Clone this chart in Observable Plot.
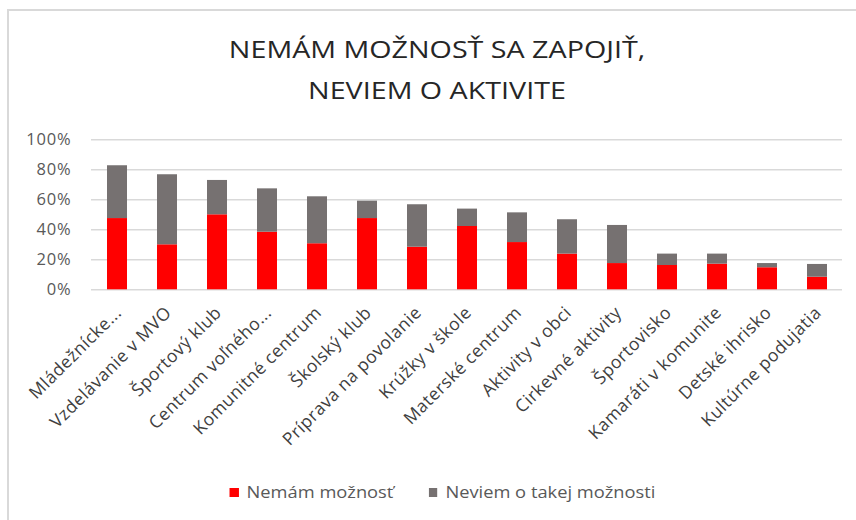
<!DOCTYPE html>
<html>
<head>
<meta charset="utf-8">
<script src="https://cdn.jsdelivr.net/npm/d3@7"></script>
<script src="https://cdn.jsdelivr.net/npm/@observablehq/plot@0.6"></script>
<style>
html, body { margin: 0; padding: 0; background: #fff; overflow: hidden; }
#wrap { position: relative; width: 856px; height: 520px; font-family: "Open Sans", sans-serif; overflow: hidden; }
#border { position: absolute; left: 7px; top: 9px; width: 960px; height: 600px; border-left: 2px solid #d9d9d9; border-top: 2px solid #d9d9d9; }
#title { position: absolute; left: 37px; top: 28px; width: 800px; text-align: center; font-size: 24.5px; line-height: 41px; color: #262626; transform: scaleX(1.17); transform-origin: 400px 0; }
#chart { position: absolute; left: 0; top: 120px; }
#legend { position: absolute; left: 0; top: 482px; width: 885px; display: flex; justify-content: center; align-items: center; font-size: 15.5px; line-height: 20px; color: #595959; transform: scaleX(1.18); transform-origin: 442.5px 0; }
.item { display: flex; align-items: center; }
.sw { width: 7.6px; height: 9px; margin-right: 6.8px; }
.item + .item { margin-left: 29.7px; }
#chart g[aria-label="text"] text { letter-spacing: 0.5px; }
#chart g[aria-label^="y-axis"] text { letter-spacing: 0.8px; }
</style>
</head>
<body>
<div id="wrap">
  <div id="border"></div>
  <div id="title">NEMÁM MOŽNOSŤ SA ZAPOJIŤ,<br>NEVIEM O AKTIVITE</div>
  <div id="chart"></div>
  <div id="legend"></div>
</div>
<script>
const categories = ["Mládežnícke...", "Vzdelávanie v MVO", "Športový klub", "Centrum voľného...", "Komunitné centrum", "Školský klub", "Príprava na povolanie", "Krúžky v škole", "Materské centrum", "Aktivity v obci", "Cirkevné aktivity", "Športovisko", "Kamaráti v komunite", "Detské ihrisko", "Kultúrne podujatia"];
const nemamMoznost = [47.5, 30.0, 50.0, 38.4, 30.7, 47.5, 28.4, 42.2, 31.5, 23.8, 17.5, 16.2, 17.1, 14.7, 8.4];
const neviemOMoznosti = [35.2, 46.7, 22.9, 28.9, 31.3, 11.6, 28.3, 11.6, 19.8, 22.9, 25.4, 7.6, 6.7, 2.8, 8.5];
const seriesNames = ["Nemám možnosť", "Neviem o takej možnosti"];
const seriesColors = ["#FF0000", "#767171"];
const yTicks = [0, 20, 40, 60, 80, 100];

const seriesValues = [nemamMoznost, neviemOMoznosti];
const data = [];
seriesNames.forEach((s, i) => {
  categories.forEach((c, j) => data.push({category: c, series: s, value: seriesValues[i][j]}));
});

const chart = Plot.plot({
  width: 856,
  height: 350,
  marginTop: 19.3,
  marginBottom: 180.7,
  marginLeft: 91,
  marginRight: 14,
  style: {fontFamily: "'Open Sans', sans-serif", fontSize: "16.5px", color: "#595959", background: "transparent", overflow: "visible"},
  x: {type: "band", domain: categories, paddingInner: 0.6, paddingOuter: 0.3, axis: null},
  y: {domain: [0, 100], ticks: yTicks, tickFormat: d => d + "%", tickSize: 0, tickPadding: 20, label: null},
  color: {domain: seriesNames, range: seriesColors},
  marks: [
    Plot.ruleY(yTicks, {stroke: "#d9d9d9", strokeWidth: 1.5}),
    Plot.barY(data, {x: "category", y: "value", fill: "series", order: seriesNames}),
    Plot.text(categories, {x: d => d, y: () => 0, text: d => d, rotate: -45, textAnchor: "end", lineAnchor: "bottom", dx: 5, dy: 24, fontSize: 17.5, fill: "#404040"})
  ]
});
document.getElementById("chart").appendChild(chart);

const legend = document.getElementById("legend");
seriesNames.forEach((s, i) => {
  const item = document.createElement("div");
  item.className = "item";
  const sw = document.createElement("span");
  sw.className = "sw";
  sw.style.background = seriesColors[i];
  const t = document.createElement("span");
  t.textContent = s;
  item.appendChild(sw);
  item.appendChild(t);
  legend.appendChild(item);
});
</script>
</body>
</html>
